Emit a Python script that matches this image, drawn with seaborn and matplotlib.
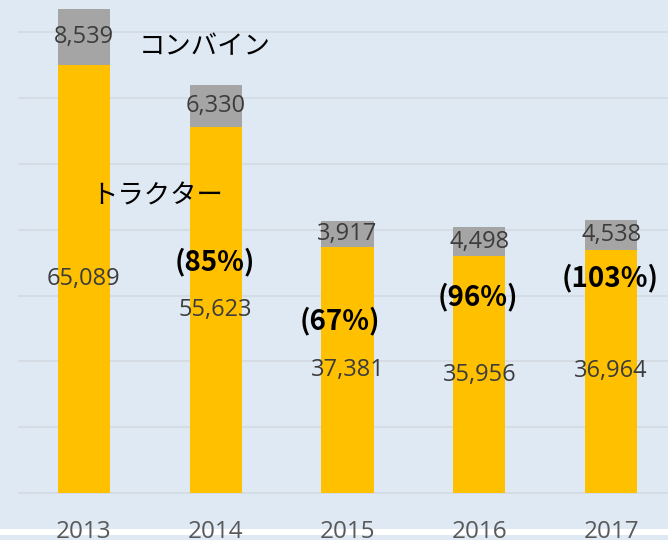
import matplotlib
matplotlib.use("Agg")
import matplotlib.pyplot as plt
import seaborn as sns
import pandas as pd
import numpy as np

years = ["2013", "2014", "2015", "2016", "2017"]
tractors = [65089, 55623, 37381, 35956, 36964]
combines = [8539, 6330, 3917, 4498, 4538]
pct_labels = ["(85%)", "(67%)", "(96%)", "(103%)"]
pct_pos = [(0.99, 35100), (1.94, 26150), (2.99, 29800), (3.99, 32700)]

sns.set_theme(style="white")
plt.rcParams['font.family'] = ['Noto Sans CJK JP', 'DejaVu Sans']

bg = "#DFE9F4"
fig = plt.figure(figsize=(6.68, 5.4), dpi=100, facecolor=bg)
ax = fig.add_axes([18/668, 0, 659/668, 1])
ax.set_facecolor(bg)

df = pd.DataFrame({"year": years, "tractor": tractors, "combine": combines})
df["total"] = df["tractor"] + df["combine"]

sns.barplot(data=df, x="year", y="total", color="#A5A5A5", width=0.395,
            saturation=1, linewidth=0, edgecolor="none", ax=ax, zorder=2)
sns.barplot(data=df, x="year", y="tractor", color="#FFC000", width=0.395,
            saturation=1, linewidth=0, edgecolor="none", ax=ax, zorder=3)

ax.set_xlim(-0.5, 4.5)
ax.set_ylim(-7144, 74936)
ax.set_yticks(np.arange(0, 70001, 10000))
ax.yaxis.grid(True, color="#D3D9E0", linewidth=1.1, zorder=0)
ax.set_axisbelow(True)
ax.set_xticks([])
ax.set_yticklabels([])
ax.tick_params(left=False, bottom=False)
for s in ax.spines.values():
    s.set_visible(False)
ax.set_xlabel("")
ax.set_ylabel("")

# white strip near the bottom edge (behind the year labels)
strip = plt.Rectangle((-0.05, 5/540), 1.2, 6/540, transform=ax.transAxes,
                      facecolor="white", edgecolor="none", zorder=0.5,
                      clip_on=False)
ax.add_patch(strip)

num_font = dict(family=["Open Sans", "DejaVu Sans"], fontsize=17, color="#3C3C3C")
for i, (t, c) in enumerate(zip(tractors, combines)):
    ax.text(i, t / 2, f"{t:,}", ha="center", va="center", zorder=5, **num_font)
    ax.text(i, t + c / 2, f"{c:,}", ha="center", va="center", zorder=5, **num_font)

for i, y in enumerate(years):
    ax.text(i, -6900, y, ha="center", va="baseline", fontsize=17.5,
            color="#595959", family=["Open Sans", "DejaVu Sans"], zorder=5,
            clip_on=False)

ax.text(0.917, 67800, "コンバイン", ha="center", va="center", fontsize=19,
        color="black", zorder=6)
ax.text(0.56, 45150, "トラクター", ha="center", va="center", fontsize=19,
        color="black", zorder=6)

for lab, (x, y) in zip(pct_labels, pct_pos):
    ax.text(x, y, lab, ha="center", va="center", fontsize=20, fontweight="bold",
            color="black", zorder=6)

fig.savefig("out.png", dpi=100, facecolor=bg)
